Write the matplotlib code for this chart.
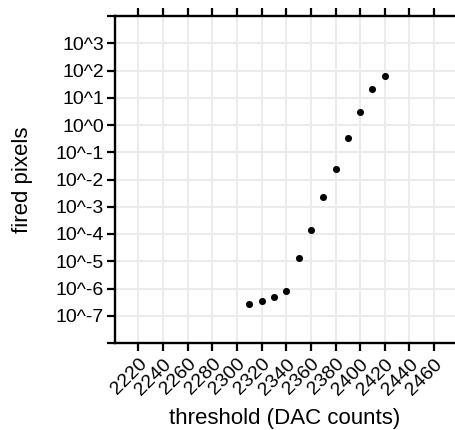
import matplotlib
matplotlib.use("Agg")
import matplotlib.pyplot as plt

plt.rcParams["font.family"] = ["Liberation Sans", "DejaVu Sans"]

# threshold scan data
threshold = [2310, 2320, 2330, 2340, 2350, 2360, 2370, 2380, 2390, 2400, 2410, 2420]
fired = [2.7e-7, 3.4e-7, 4.7e-7, 8.4e-7, 1.36e-5, 1.36e-4,
         2.24e-3, 2.37e-2, 0.324, 3.06, 21.8, 63.7]

x_ticks = list(range(2220, 2461, 20))
y_exps = list(range(-8, 5))
y_labels = ["" if e in (-8, 4) else "10^%d" % e for e in y_exps]

fig = plt.figure(figsize=(4.55, 4.30), dpi=100)
ax = fig.add_axes([115 / 455, 87 / 430, 340 / 455, 327 / 430])

ax.scatter(threshold, fired, s=26, color="black", zorder=3, linewidths=0)

ax.set_yscale("log")
ax.set_xlim(2201, 2477)
ax.set_ylim(1e-8, 1e4)
ax.set_xticks(x_ticks)
ax.set_xticklabels([str(t) for t in x_ticks], rotation=45, ha="right",
                   rotation_mode="anchor", fontsize=14)
ax.set_yticks([10.0 ** e for e in y_exps])
ax.set_yticklabels(y_labels, fontsize=14)
ax.minorticks_off()

ax.grid(True, color="#ebebeb", linewidth=1.5)
ax.set_axisbelow(True)

ax.tick_params(axis="both", length=6, width=1.6, color="black", labelcolor="black")
ax.tick_params(axis="x", top=True, labeltop=False, pad=3)
ax.tick_params(axis="y", pad=2)

for side in ["left", "bottom", "top"]:
    ax.spines[side].set_linewidth(1.7)
    ax.spines[side].set_color("black")
ax.spines["right"].set_visible(False)

ax.set_xlabel("threshold (DAC counts)", fontsize=16, labelpad=7)
ax.set_ylabel("fired pixels", fontsize=16)
ax.yaxis.set_label_coords(-0.24, 0.5)

fig.savefig("out.png", dpi=100)
